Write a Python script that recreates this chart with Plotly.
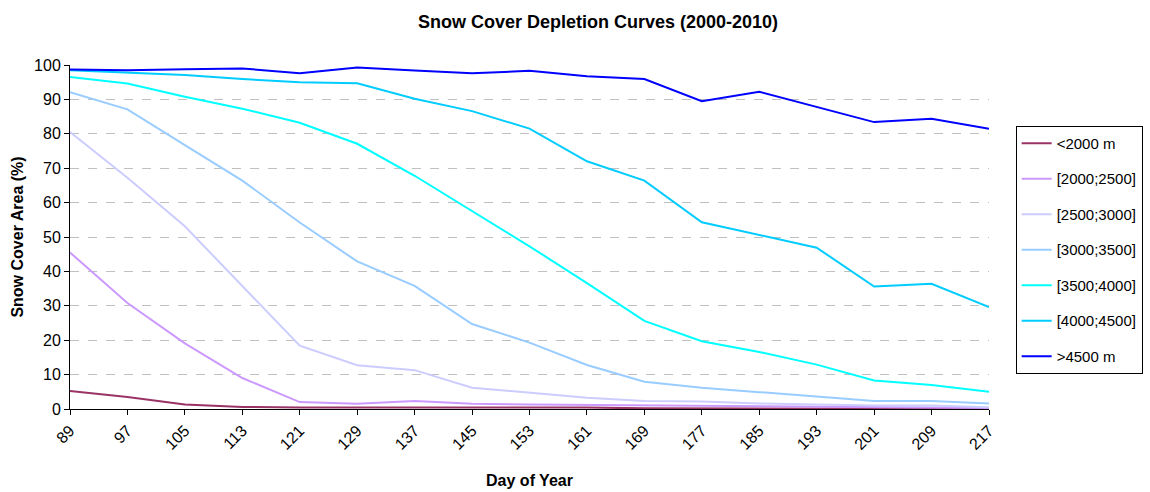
import plotly.graph_objects as go

# Day of year (every 8 days, MODIS composite periods)
days = [89, 97, 105, 113, 121, 129, 137, 145, 153, 161, 169, 177, 185, 193, 201, 209, 217]

# Mean snow cover area (%) per elevation band, 2000-2010
lt2000 = [5.2, 3.5, 1.3, 0.6, 0.4, 0.4, 0.6, 0.5, 0.4, 0.4, 0.2, 0.2, 0.2, 0.1, 0.1, 0.1, 0.1]
b2000_2500 = [45.5, 30.8, 19.1, 9.0, 2.0, 1.5, 2.3, 1.5, 1.3, 1.2, 1.0, 1.0, 0.8, 0.7, 0.6, 0.6, 0.3]
b2500_3000 = [80.5, 67.2, 53.1, 35.6, 18.4, 12.7, 11.3, 6.2, 4.7, 3.3, 2.3, 2.2, 1.6, 1.2, 1.0, 1.0, 0.5]
b3000_3500 = [92.1, 87.1, 76.7, 66.4, 54.2, 42.9, 35.8, 24.7, 19.3, 12.8, 7.9, 6.2, 4.9, 3.5, 2.3, 2.3, 1.6]
b3500_4000 = [96.5, 94.6, 90.8, 87.3, 83.2, 77.1, 67.8, 57.5, 47.3, 36.6, 25.6, 19.7, 16.6, 12.9, 8.3, 7.0, 5.0]
b4000_4500 = [98.5, 97.8, 97.1, 95.9, 95.0, 94.7, 90.2, 86.6, 81.5, 72.0, 66.4, 54.3, 50.6, 46.9, 35.6, 36.4, 29.6]
gt4500 = [98.7, 98.5, 98.8, 99.0, 97.6, 99.3, 98.4, 97.6, 98.3, 96.7, 95.9, 89.5, 92.2, 87.9, 83.4, 84.4, 81.5]

band_names = ["<2000 m", "[2000;2500]", "[2500;3000]", "[3000;3500]",
              "[3500;4000]", "[4000;4500]", ">4500 m"]
band_values = [lt2000, b2000_2500, b2500_3000, b3000_3500, b3500_4000, b4000_4500, gt4500]
band_colors = ["#993366", "#CC99FF", "#CCCCFF", "#99CCFF", "#00FFFF", "#00CCFF", "#0000FF"]

FONT = "Liberation Sans, Arial, sans-serif"

fig = go.Figure()
for i, (name, vals, col) in enumerate(zip(band_names, band_values, band_colors)):
    fig.add_trace(go.Scatter(
        x=days, y=vals, name=name, mode="lines",
        line=dict(color=col, width=2),
        legendgroup=f"g{i}",
    ))

fig.update_layout(
    width=1150, height=492,
    margin=dict(l=70, r=161, t=65, b=83, autoexpand=False),
    paper_bgcolor="white", plot_bgcolor="white",
    font=dict(family=FONT, size=16, color="black"),
    title=dict(
        text="<b>Snow Cover Depletion Curves (2000-2010)</b>",
        x=0.5745, xref="paper", xanchor="center",
        y=0.955, yanchor="middle",
        font=dict(family=FONT, size=18, color="black"),
    ),
    showlegend=True,
    legend=dict(
        x=1.029, y=0.823, xanchor="left", yanchor="top",
        bordercolor="black", borderwidth=1, bgcolor="white",
        font=dict(family=FONT, size=15, color="black"),
        itemwidth=30, tracegroupgap=13,
    ),
)

fig.update_xaxes(
    range=[89, 217], tickmode="array", tickvals=days,
    ticktext=[str(d) for d in days], tickangle=-45,
    showline=True, linecolor="black", linewidth=1,
    ticks="outside", ticklen=5, tickcolor="black",
    showgrid=False, zeroline=False, automargin=False,
    title=dict(text="<b>Day of Year</b>", font=dict(family=FONT, size=16), standoff=22),
)
fig.update_yaxes(
    range=[0, 100], tickmode="linear", tick0=0, dtick=10,
    showline=True, linecolor="black", linewidth=1,
    ticks="outside", ticklen=5, tickcolor="black",
    showgrid=True, gridcolor="#C0C0C0", griddash="dash", gridwidth=1,
    zeroline=False, automargin=False,
    title=dict(text="<b>Snow Cover Area (%)</b>", font=dict(family=FONT, size=16), standoff=6),
)

fig.write_html("out.html")
